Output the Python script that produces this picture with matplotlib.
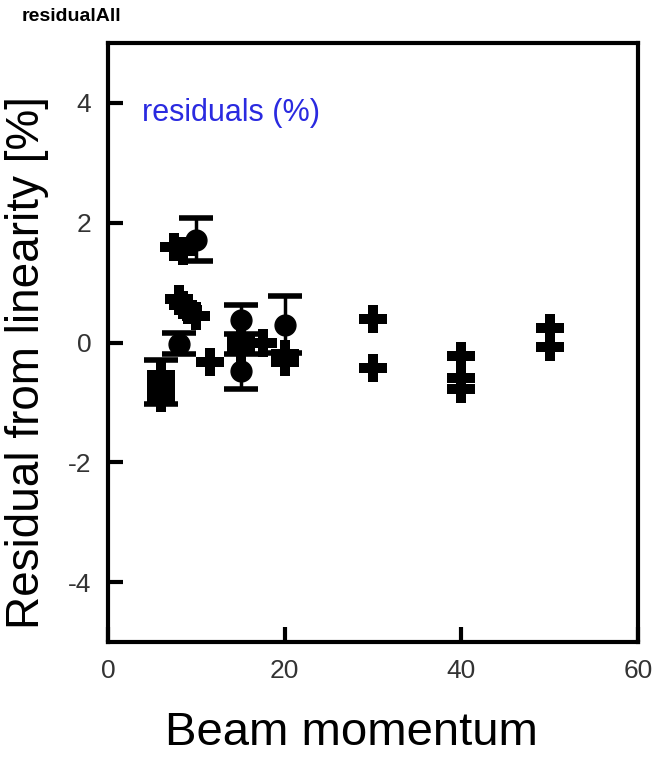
import matplotlib.pyplot as plt

plt.rcParams['axes.unicode_minus'] = False

# circles with error bars
circ_x = [6, 8, 10, 15, 15, 20]
circ_y = [-0.66, -0.02, 1.72, 0.38, -0.48, 0.3]
circ_err = [0.36, 0.18, 0.36, 0.24, 0.29, 0.47]

# plus markers
plus_x = [6, 6, 6, 6, 7.5, 8.5, 8, 8.5, 9, 10, 11.5, 15, 15, 15, 17.5, 20, 20,
          30, 30, 40, 40, 40, 50, 50]
plus_y = [-0.55, -0.7, -0.82, -0.92, 1.6, 1.52, 0.72, 0.62, 0.55, 0.45, -0.32,
          0.1, 0.0, -0.1, 0.0, -0.2, -0.32, 0.4, -0.43, -0.22, -0.6, -0.78,
          0.25, -0.08]

xticks = [0, 20, 40, 60]
yticks = [-4, -2, 0, 2, 4]

fig = plt.figure(figsize=(6.57, 7.62), dpi=100)
ax = fig.add_axes([0.1644, 0.1575, 0.807, 0.786])

ax.errorbar(circ_x, circ_y, yerr=circ_err, fmt='o', color='black', ms=15,
            elinewidth=2.5, capsize=12, capthick=4)
ax.plot(plus_x, plus_y, 'P', color='black', ms=20, markeredgewidth=0)

ax.set_xlim(0, 60)
ax.set_ylim(-5, 5)
ax.set_xticks(xticks)
ax.set_yticks(yticks)
for s in ax.spines.values():
    s.set_linewidth(3)
ax.tick_params(direction='in', length=11, width=3, labelsize=19,
               labelcolor='#333333', pad=12)
for lab in ax.get_xticklabels() + ax.get_yticklabels():
    lab.set_family('Liberation Sans')

ax.set_xlabel('Beam momentum', fontsize=34, family='Liberation Sans')
ax.set_ylabel('Residual from linearity [%]', fontsize=33, family='Liberation Sans')
ax.xaxis.set_label_coords(0.46, -0.115)
ax.yaxis.set_label_coords(-0.112, 0.467)
ax.text(0.064, 0.883, 'residuals (%)', transform=ax.transAxes, color='#2a2ae0',
        fontsize=22, family='Liberation Sans', va='center')
fig.text(0.033, 0.978, 'residualAll', fontsize=14, fontweight='bold',
         family='Liberation Sans', va='center')

fig.savefig('out.png', dpi=100)
